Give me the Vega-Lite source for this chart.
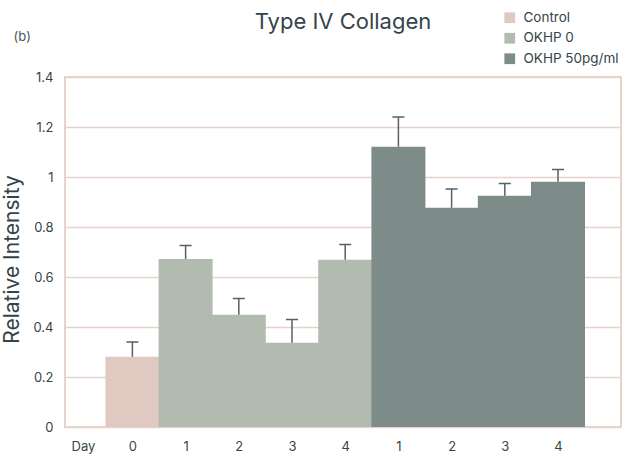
{
  "$schema": "https://vega.github.io/schema/vega-lite/v6.json",
  "autosize": "none",
  "width": 556,
  "height": 350,
  "padding": {"left": 65, "top": 77, "right": 13, "bottom": 32},
  "background": "white",
  "config": {
    "font": "Inter",
    "view": {"stroke": "#e5d3cc", "strokeWidth": 2},
    "axis": {"labelFont": "Inter", "titleFont": "Inter", "labelColor": "#3a4446", "titleColor": "#34444a"}
  },
  "title": {
    "text": "Type IV Collagen",
    "fontSize": 22,
    "fontWeight": "normal",
    "color": "#34444a",
    "anchor": "middle",
    "offset": 0,
    "dy": 23,
    "font": "Inter"
  },
  "data": {
    "values": [
      {"idx": 1, "group": "Control", "day": "0", "value": 0.281, "upper": 0.34},
      {"idx": 2, "group": "OKHP 0", "day": "1", "value": 0.672, "upper": 0.726},
      {"idx": 3, "group": "OKHP 0", "day": "2", "value": 0.449, "upper": 0.514},
      {"idx": 4, "group": "OKHP 0", "day": "3", "value": 0.337, "upper": 0.43},
      {"idx": 5, "group": "OKHP 0", "day": "4", "value": 0.669, "upper": 0.73},
      {"idx": 6, "group": "OKHP 50pg/ml", "day": "1", "value": 1.121, "upper": 1.24},
      {"idx": 7, "group": "OKHP 50pg/ml", "day": "2", "value": 0.877, "upper": 0.952},
      {"idx": 8, "group": "OKHP 50pg/ml", "day": "3", "value": 0.925, "upper": 0.974},
      {"idx": 9, "group": "OKHP 50pg/ml", "day": "4", "value": 0.981, "upper": 1.03}
    ]
  },
  "layer": [
    {
      "mark": {"type": "bar", "width": 54},
      "encoding": {
        "x": {
          "field": "idx",
          "type": "quantitative",
          "scale": {"domain": [-0.267, 10.184], "nice": false, "zero": false, "padding": 0},
          "axis": {
            "title": null,
            "values": [0.07, 1, 2, 3, 4, 5, 6, 7, 8, 9],
            "labelExpr": "datum.value < 0.5 ? 'Day' : datum.value == 1 ? '0' : datum.value <= 5 ? '' + (datum.value - 1) : '' + (datum.value - 5)",
            "domain": false,
            "ticks": false,
            "grid": false,
            "labelFontSize": 13,
            "labelPadding": 13,
            "labelFlush": false
          }
        },
        "y": {
          "field": "value",
          "type": "quantitative",
          "scale": {"domain": [0, 1.4], "nice": false},
          "axis": {
            "title": "Relative Intensity",
            "titleFontSize": 21,
            "titleFontWeight": "normal",
            "titlePadding": 10,
            "titleY": 182,
            "values": [0, 0.2, 0.4, 0.6, 0.8, 1, 1.2, 1.4],
            "format": "~g",
            "domain": false,
            "ticks": false,
            "grid": true,
            "gridColor": "#e5d3cc",
            "gridWidth": 1.5,
            "gridOpacity": 1,
            "labelFontSize": 13,
            "labelPadding": 12
          }
        },
        "color": {
          "field": "group",
          "type": "nominal",
          "scale": {
            "domain": ["Control", "OKHP 0", "OKHP 50pg/ml"],
            "range": ["#dfc9c0", "#b2bbb0", "#7d8b89"]
          },
          "legend": {
            "title": null,
            "orient": "none",
            "legendX": 438,
            "legendY": -66,
            "symbolType": "square",
            "symbolSize": 115,
            "symbolStrokeWidth": 0,
            "symbolOpacity": 1,
            "labelFontSize": 13.5,
            "labelFont": "Inter",
            "labelColor": "#34444a",
            "labelOffset": 7,
            "rowPadding": 5.5,
            "padding": 0
          }
        }
      }
    },
    {
      "mark": {"type": "rule", "color": "#5a5f60", "strokeWidth": 1.5},
      "encoding": {
        "x": {"field": "idx", "type": "quantitative"},
        "y": {"field": "value", "type": "quantitative"},
        "y2": {"field": "upper"}
      }
    },
    {
      "mark": {"type": "tick", "orient": "horizontal", "color": "#5a5f60", "size": 12, "thickness": 1.5, "opacity": 1},
      "encoding": {
        "x": {"field": "idx", "type": "quantitative"},
        "y": {"field": "upper", "type": "quantitative"}
      }
    },
    {
      "data": {"values": [{"label": "(b)"}]},
      "mark": {"type": "text", "fontSize": 13, "fontWeight": "normal", "color": "#4a5658", "clip": false, "font": "Inter"},
      "encoding": {
        "text": {"field": "label"},
        "x": {"datum": -1.07},
        "y": {"datum": 1.561}
      }
    }
  ]
}
